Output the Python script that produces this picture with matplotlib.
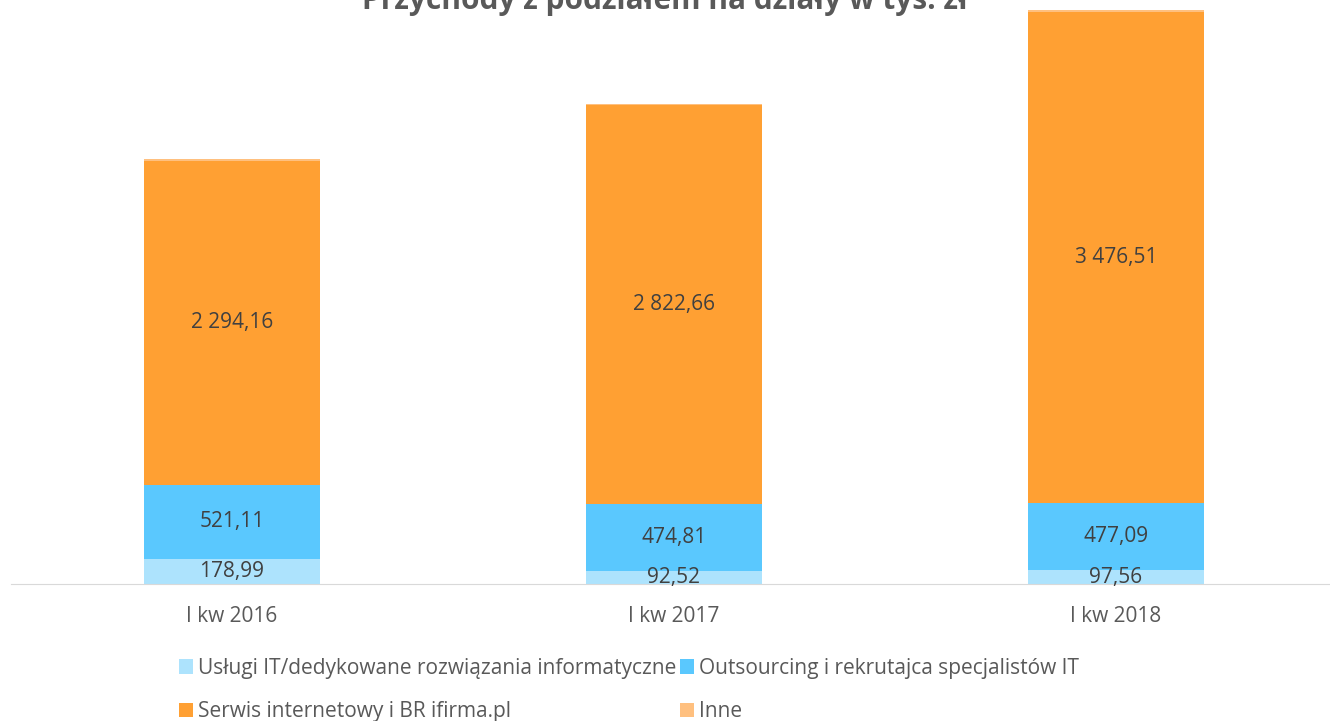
import matplotlib
matplotlib.use("Agg")
import matplotlib.pyplot as plt
import numpy as np

categories = ["I kw 2016", "I kw 2017", "I kw 2018"]
uslugi     = [178.99, 92.52, 97.56]
outsourcing = [521.11, 474.81, 477.09]
serwis     = [2294.16, 2822.66, 3476.51]
inne       = [12.0, 8.0, 10.0]

series_names = [
    "Usługi IT/dedykowane rozwiązania informatyczne",
    "Outsourcing i rekrutajca specjalistów IT",
    "Serwis internetowy i BR ifirma.pl",
    "Inne",
]
colors = ["#ADE3FD", "#5AC8FE", "#FFA033", "#FFC07F"]
label_series = [True, True, True, False]


def fmt(v):
    s = f"{v:,.2f}"
    return s.replace(",", " ").replace(".", ",")


plt.rcParams["font.family"] = ["Open Sans", "DejaVu Sans"]

W, H = 1330, 721
fig = plt.figure(figsize=(W / 100, H / 100), dpi=100)
ax = fig.add_axes([11 / W, (H - 584) / H, 1326 / W, 584 / H])

x = np.arange(len(categories))
bottom = np.zeros(len(categories))
data = [uslugi, outsourcing, serwis, inne]
for vals, name, col, lab in zip(data, series_names, colors, label_series):
    vals = np.array(vals)
    ax.bar(x, vals, 0.4, bottom=bottom, color=col, label=name, zorder=2)
    if lab:
        for xi, b, v in zip(x, bottom, vals):
            ax.text(xi, b + v / 2, fmt(v), ha="center", va="center",
                    fontsize=15, color="#404040", zorder=3)
    bottom += vals

ax.set_xlim(-0.5, 2.5)
ax.set_ylim(0, 4133)
for s in ["top", "right", "left"]:
    ax.spines[s].set_visible(False)
ax.spines["bottom"].set_color("#D9D9D9")
ax.set_yticks([])
ax.set_xticks(x)
ax.set_xticklabels(categories, fontsize=15, color="#595959")
ax.tick_params(axis="x", length=0, pad=16)

fig.text(0.5, (H - 9) / H, "Przychody z podziałem na działy w tys. zł",
         ha="center", va="baseline", fontsize=21.5, fontweight="bold", color="#595959")

# row-major legend order like the original
handles, labels = ax.get_legend_handles_labels()
order = [0, 2, 1, 3]
fig.legend([handles[i] for i in order], [labels[i] for i in order],
           ncol=2, loc="center", bbox_to_anchor=(0.473, (H - 690) / H),
           frameon=False, fontsize=15, labelcolor="#595959", handlelength=0.65,
           handleheight=0.7, handletextpad=0.25, columnspacing=0.2, labelspacing=1.1)

fig.savefig("out.png", dpi=100)
